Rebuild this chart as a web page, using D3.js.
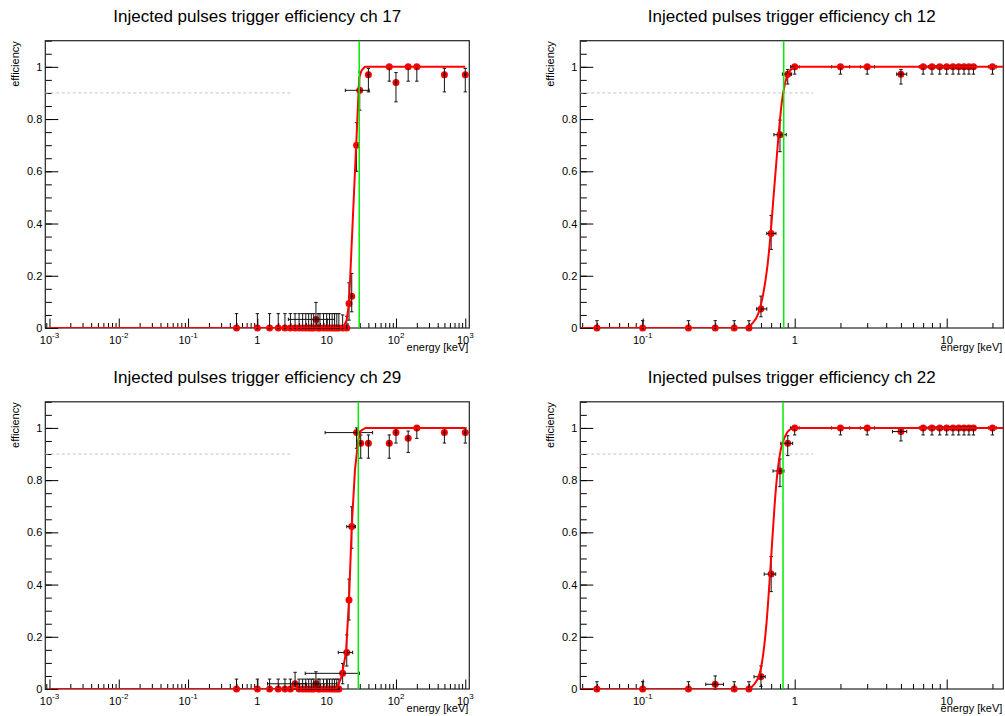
<!DOCTYPE html>
<html><head><meta charset="utf-8">
<script src="https://cdn.jsdelivr.net/npm/d3@7"></script>
<style>
body{margin:0;background:#fff;}
svg{display:block;}
text{font-family:"Liberation Sans",Arial,Helvetica,sans-serif;}
</style>
</head><body>
<svg id="c" width="1005" height="716"></svg>
<script>
// ---------------- DATA ----------------
const titles = [
  "Injected pulses trigger efficiency ch 17",
  "Injected pulses trigger efficiency ch 12",
  "Injected pulses trigger efficiency ch 29",
  "Injected pulses trigger efficiency ch 22"
];
const xAxisTitle = "energy [keV]";
const yAxisTitle = "efficiency";

// ch 17
const ch17Energy = [0.5,1,1.5,2,2.5,3,3.5,4,4.5,5,5.5,6,6.5,7,7.5,8,9,10,11,12,13,14,15,17,19.5,21,23,27,30,40,80,100,150,200,500,1000];
const ch17Eff    = [0,0,0,0,0,0,0,0,0,0,0,0,0,0.033,0,0,0,0,0,0,0,0,0,0,0,0.094,0.122,0.70,0.91,0.97,1,0.94,1,1,0.97,0.97];
const ch17ErrLo  = [0,0,0,0,0,0,0,0,0,0,0,0,0,0.033,0,0,0,0,0,0,0,0,0,0,0,0.064,0.06,0.10,0.076,0.066,0.055,0.074,0.055,0.055,0.066,0.066];
const ch17ErrHi  = [0.055,0.055,0.055,0.055,0.055,0.055,0.055,0.055,0.055,0.055,0.055,0.055,0.055,0.065,0.055,0.055,0.055,0.055,0.055,0.055,0.055,0.055,0.055,0.05,0.045,0.079,0.087,0.086,0.07,0.024,0,0.038,0,0,0.024,0.024];
const ch17XErrE  = [7,30];
const ch17XErrLo = [2.8,18.6];
const ch17XErrHi = [13,41];
const ch17FitE   = [0.001,17.2,19.4,21,29.5,32,35.7,1000];
const ch17FitEff = [0,0,0.03,0.094,0.96,0.987,1,1];

// ch 12
const ch12Energy = [0.05,0.1,0.2,0.3,0.4,0.5,0.6,0.7,0.8,0.9,1,2,3,5,7,8,9,10,11,12,13,14,15,20];
const ch12Eff    = [0,0,0,0,0,0,0.073,0.362,0.74,0.972,1,1,1,0.972,1,1,1,1,1,1,1,1,1,1];
const ch12ErrLo  = [0,0,0,0,0,0,0.03,0.061,0.065,0.038,0.028,0.028,0.028,0.038,0.028,0.028,0.028,0.028,0.028,0.028,0.028,0.028,0.028,0.028];
const ch12ErrHi  = [0.028,0.028,0.028,0.028,0.028,0.028,0.049,0.069,0.056,0.018,0,0,0,0.018,0,0,0,0,0,0,0,0,0,0];
const ch12XErrE  = [0.6,0.7,0.8,0.9,1,2,3,5,7,8,9,10,11,12,13,14,15,20];
const ch12XErrLo = [0.562,0.655,0.73,0.83,0.94,1.75,2.7,4.69,6.6,7.6,8.6,9.6,10.6,11.6,12.6,13.6,14.6,18.8];
const ch12XErrHi = [0.655,0.753,0.88,0.955,1.07,2.3,3.35,5.46,7.4,8.4,9.4,10.4,11.4,12.4,13.4,14.4,15.4,21.2];
const ch12FitE   = [0.039,0.483,0.521,0.577,0.622,0.661,0.695,0.723,0.753,0.785,0.821,0.863,0.922,1.004,1.1,23.5];
const ch12FitEff = [0,0,0.015,0.056,0.133,0.235,0.362,0.49,0.617,0.745,0.86,0.936,0.981,0.998,1,1];

// ch 29
const ch29Energy = [0.5,1,1.5,2,2.5,3,3.5,4,4.5,5,5.5,6,6.5,7,7.5,8,9,10,11,12,13,14,15,17,19.5,21,23,27,31,40,80,100,150,200,500,1000];
const ch29Eff    = [0,0,0,0,0,0,0.02,0,0,0,0,0,0,0.02,0,0,0,0,0,0,0,0,0,0.06,0.14,0.341,0.622,0.982,0.941,0.941,0.941,0.982,0.96,1,0.982,0.982];
const ch29ErrLo  = [0,0,0,0,0,0,0.02,0,0,0,0,0,0,0.02,0,0,0,0,0,0,0,0,0,0.04,0.052,0.077,0.083,0.06,0.057,0.057,0.057,0.04,0.054,0.04,0.04,0.04];
const ch29ErrHi  = [0.038,0.038,0.038,0.038,0.038,0.038,0.044,0.038,0.038,0.038,0.038,0.038,0.038,0.046,0.038,0.038,0.038,0.038,0.038,0.038,0.038,0.038,0.038,0.038,0.067,0.08,0.076,0.018,0.032,0.032,0.032,0.018,0.028,0,0.018,0.018];
const ch29XErrE  = [3.5,7,17,19.5,23,27];
const ch29XErrLo = [1.4,3.5,4.9,14.7,19.5,9.5];
const ch29XErrHi = [5,14,29.6,23.7,26,46];
const ch29FitE   = [0.001,13.9,16.4,19.0,21.0,23.0,25.6,28.6,31.3,36.6,1000];
const ch29FitEff = [0,0,0.047,0.14,0.341,0.622,0.839,0.954,0.99,1,1];

// ch 22
const ch22Energy = [0.05,0.1,0.2,0.3,0.4,0.5,0.6,0.7,0.8,0.9,1,2,3,5,7,8,9,10,11,12,13,14,15,20];
const ch22Eff    = [0,0,0,0.018,0,0,0.047,0.44,0.835,0.941,1,1,1,0.986,1,1,1,1,1,1,1,1,1,1];
const ch22ErrLo  = [0,0,0,0.018,0,0,0.037,0.067,0.06,0.047,0.027,0.027,0.027,0.036,0.027,0.027,0.027,0.027,0.027,0.027,0.027,0.027,0.027,0.027];
const ch22ErrHi  = [0.028,0.028,0.028,0.032,0.028,0.028,0.041,0.067,0.046,0.029,0,0,0,0.014,0,0,0,0,0,0,0,0,0,0];
const ch22XErrE  = [0.3,0.6,0.7,0.8,0.9,1,2,3,5,7,8,9,10,11,12,13,14,15,20];
const ch22XErrLo = [0.26,0.54,0.63,0.72,0.81,0.94,1.75,2.7,4.4,6.6,7.6,8.6,9.6,10.6,11.6,12.6,13.6,14.6,18.8];
const ch22XErrHi = [0.34,0.64,0.75,0.85,0.97,1.07,2.3,3.35,5.46,7.4,8.4,9.4,10.4,11.4,12.4,13.4,14.4,15.4,21.2];
const ch22FitE   = [0.039,0.495,0.535,0.585,0.622,0.655,0.689,0.717,0.742,0.769,0.809,0.863,0.922,1.0,23.5];
const ch22FitEff = [0,0,0.015,0.054,0.137,0.264,0.443,0.597,0.724,0.826,0.916,0.967,0.992,1,1];

// threshold (green line), 90% reference line end, axis ranges
const thresholds = [29.5, 0.847, 28.6, 0.838];
const refLevel = 0.9;
const refLineEnd = [3.0, 1.32, 3.0, 1.32];
const wideRange = [Math.pow(10,-3.06), Math.pow(10,3.058)];
const narrowRange = [0.03887, 23.57];
const yDomain = [0, 1.1];
const yTickValues = [0,0.2,0.4,0.6,0.8,1];
const yTickLabels = ["0","0.2","0.4","0.6","0.8","1"];
const wideTickValues = [0.001,0.01,0.1,1,10,100,1000];
const wideTickBase = ["10","10","10","1","10","10","10"];
const wideTickExp  = ["-3","-2","-1","","","2","3"];
const narrowTickValues = [0.1,1,10];
const narrowTickBase = ["10","1","10"];
const narrowTickExp  = ["-1","",""];

// ---------------- DRAW ----------------
const svg = d3.select("#c");
const FONT = '"Liberation Sans",Arial,Helvetica,sans-serif';

const panels = [
  {id:0, E:ch17Energy, eff:ch17Eff, lo:ch17ErrLo, hi:ch17ErrHi, xe:ch17XErrE, xl:ch17XErrLo, xh:ch17XErrHi,
   fitE:ch17FitE, fitY:ch17FitEff, xdom:wideRange, tv:wideTickValues, tb:wideTickBase, te:wideTickExp,
   curve:d3.curveLinear, f:{x0:45.3,x1:469.3,y0:40.7,y1:328}, titleY:21.7},
  {id:1, E:ch12Energy, eff:ch12Eff, lo:ch12ErrLo, hi:ch12ErrHi, xe:ch12XErrE, xl:ch12XErrLo, xh:ch12XErrHi,
   fitE:ch12FitE, fitY:ch12FitEff, xdom:narrowRange, tv:narrowTickValues, tb:narrowTickBase, te:narrowTickExp,
   curve:d3.curveMonotoneX, f:{x0:580.3,x1:1003.3,y0:40.7,y1:328}, titleY:21.7},
  {id:2, E:ch29Energy, eff:ch29Eff, lo:ch29ErrLo, hi:ch29ErrHi, xe:ch29XErrE, xl:ch29XErrLo, xh:ch29XErrHi,
   fitE:ch29FitE, fitY:ch29FitEff, xdom:wideRange, tv:wideTickValues, tb:wideTickBase, te:wideTickExp,
   curve:d3.curveLinear, f:{x0:45.3,x1:469.3,y0:401.8,y1:689}, titleY:382.7},
  {id:3, E:ch22Energy, eff:ch22Eff, lo:ch22ErrLo, hi:ch22ErrHi, xe:ch22XErrE, xl:ch22XErrLo, xh:ch22XErrHi,
   fitE:ch22FitE, fitY:ch22FitEff, xdom:narrowRange, tv:narrowTickValues, tb:narrowTickBase, te:narrowTickExp,
   curve:d3.curveMonotoneX, f:{x0:580.3,x1:1003.3,y0:401.8,y1:689}, titleY:382.7}
];

const defs = svg.append("defs");

panels.forEach(p => {
  const f = p.f;
  const g = svg.append("g");
  const x = d3.scaleLog().domain(p.xdom).range([f.x0, f.x1]);
  const y = d3.scaleLinear().domain(yDomain).range([f.y1, f.y0]);
  const clipId = "clip" + p.id;
  defs.append("clipPath").attr("id", clipId).append("rect")
    .attr("x", f.x0).attr("y", f.y0).attr("width", f.x1 - f.x0).attr("height", f.y1 - f.y0);

  // title
  g.append("text").attr("x", (f.x0 + f.x1) / 2).attr("y", p.titleY)
    .attr("text-anchor", "middle").attr("font-size", 17).attr("fill", "#000").text(titles[p.id]);

  // axes ticks
  const yMinor = d3.axisLeft(y).tickValues(y.ticks(22)).tickSize(-6.5).tickSizeOuter(0).tickFormat("");
  g.append("g").attr("transform", `translate(${f.x0},0)`).call(yMinor).call(s => s.select(".domain").remove());
  const yMajor = d3.axisLeft(y).tickValues(yTickValues).tickSize(-13).tickSizeOuter(0).tickPadding(3)
    .tickFormat(d => yTickLabels[yTickValues.indexOf(d)]);
  const ya = g.append("g").attr("transform", `translate(${f.x0},0)`).call(yMajor);
  ya.select(".domain").remove();
  ya.attr("font-size", 11).attr("font-family", FONT);

  const allX = x.ticks();
  const isMajor = v => Math.abs(Math.log10(v) - Math.round(Math.log10(v))) < 1e-9;
  const xMinorVals = allX.filter(v => !isMajor(v));
  const xMajorVals = p.tv;
  const xMinor = d3.axisBottom(x).tickValues(xMinorVals).tickSize(-5).tickSizeOuter(0).tickFormat("");
  g.append("g").attr("transform", `translate(0,${f.y1})`).call(xMinor).call(s => s.select(".domain").remove());
  const xMajor = d3.axisBottom(x).tickValues(xMajorVals).tickSize(-9.5).tickSizeOuter(0).tickFormat("");
  g.append("g").attr("transform", `translate(0,${f.y1})`).call(xMajor).call(s => s.select(".domain").remove());

  // x tick labels with superscripts
  p.tv.forEach((v, i) => {
    const t = g.append("text").attr("x", x(v)).attr("y", f.y1 + 15.6)
      .attr("text-anchor", "middle").attr("font-size", 11).attr("fill", "#000");
    t.append("tspan").text(p.tb[i]);
    if (p.te[i]) t.append("tspan").attr("font-size", 8).attr("dy", -5.5).text(p.te[i]);
  });

  // axis titles
  g.append("text").attr("x", f.x1 - 1).attr("y", f.y1 + 22.7).attr("text-anchor", "end")
    .attr("font-size", 11).attr("fill", "#000").text(xAxisTitle);
  g.append("text").attr("transform", `translate(${f.x0 - 26.8},${f.y0 + 0.5}) rotate(-90)`)
    .attr("text-anchor", "end").attr("font-size", 11).attr("fill", "#000").text(yAxisTitle);

  // frame
  g.append("rect").attr("x", f.x0).attr("y", f.y0).attr("width", f.x1 - f.x0).attr("height", f.y1 - f.y0)
    .attr("fill", "none").attr("stroke", "#222").attr("stroke-width", 1.2);

  // 90% reference line
  g.append("line").attr("x1", x(p.xdom[0])).attr("x2", x(refLineEnd[p.id]))
    .attr("y1", y(refLevel)).attr("y2", y(refLevel))
    .attr("stroke", "#c4c4c4").attr("stroke-width", 1).attr("stroke-dasharray", "3,2.5");

  // markers
  const pts = p.E.map((e, i) => ({e, v: p.eff[i], lo: p.lo[i], hi: p.hi[i]}));
  g.append("g").selectAll("circle").data(pts).join("circle")
    .attr("cx", d => x(d.e)).attr("cy", d => y(d.v)).attr("r", 3.5).attr("fill", "#ff0000");

  // error bars
  const eb = g.append("g").attr("stroke", "#111").attr("stroke-width", 1).attr("fill", "none");
  const cap = 1.7;
  pts.forEach(d => {
    const cx = x(d.e);
    if (d.lo + d.hi > 0) {
      eb.append("line").attr("x1", cx).attr("x2", cx).attr("y1", y(d.v - d.lo)).attr("y2", y(d.v + d.hi));
      if (d.hi > 0) eb.append("line").attr("x1", cx - cap).attr("x2", cx + cap).attr("y1", y(d.v + d.hi)).attr("y2", y(d.v + d.hi));
      if (d.lo > 0) eb.append("line").attr("x1", cx - cap).attr("x2", cx + cap).attr("y1", y(d.v - d.lo)).attr("y2", y(d.v - d.lo));
    }
  });
  p.xe.forEach((e, k) => {
    const i = p.E.indexOf(e);
    const cy = y(p.eff[i]);
    const a = x(p.xl[k]), b = x(p.xh[k]);
    eb.append("line").attr("x1", a).attr("x2", b).attr("y1", cy).attr("y2", cy);
    eb.append("line").attr("x1", a).attr("x2", a).attr("y1", cy - cap).attr("y2", cy + cap);
    eb.append("line").attr("x1", b).attr("x2", b).attr("y1", cy - cap).attr("y2", cy + cap);
  });
  g.append("g").selectAll("circle").data(pts).join("circle")
    .attr("cx", d => x(d.e)).attr("cy", d => y(d.v)).attr("r", 1.3).attr("fill", "#3a0000");

  // fit curve
  const fit = p.fitE.map((e, i) => [e, p.fitY[i]]);
  const line = d3.line().x(d => x(d[0])).y(d => y(d[1])).curve(p.curve);
  g.append("path").attr("d", line(fit)).attr("clip-path", `url(#${clipId})`)
    .attr("fill", "none").attr("stroke", "#ff0000").attr("stroke-width", 2).attr("stroke-linejoin", "round");

  // threshold line
  g.append("line").attr("x1", x(thresholds[p.id])).attr("x2", x(thresholds[p.id]))
    .attr("y1", f.y0).attr("y2", f.y1).attr("stroke", "#00ee00").attr("stroke-width", 1.5);
});
</script>
</body></html>
